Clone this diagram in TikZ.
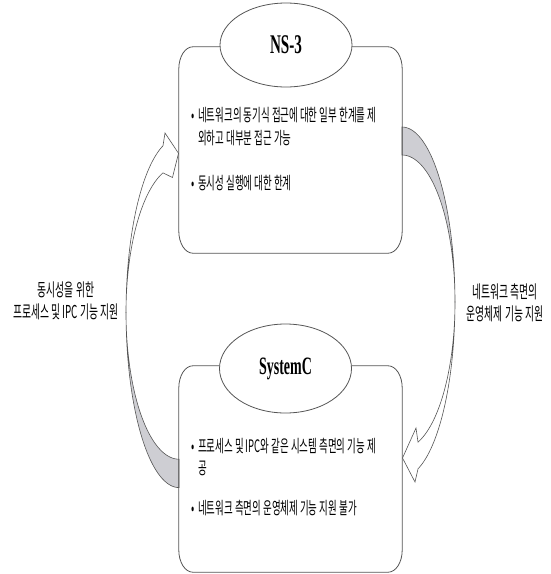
\documentclass[tikz,border=0pt]{standalone}
\usepackage{fontspec}
\setmainfont{Liberation Serif}
\newfontfamily\krfont[FakeStretch=0.55]{Noto Sans CJK KR}
\newfontfamily\titlefont[FakeStretch=0.56]{Liberation Serif}
\usetikzlibrary{shapes.geometric}

% rectangle with elliptic corners drawn around a named node
\newcommand\softbox[1]{%
  \draw[boxline]
    ([xshift=14pt]#1.north west) -- ([xshift=-14pt]#1.north east)
    .. controls ([xshift=-6.3pt]#1.north east) and ([yshift=-9.9pt]#1.north east) .. ([yshift=-22pt]#1.north east)
    -- ([yshift=22pt]#1.south east)
    .. controls ([yshift=9.9pt]#1.south east) and ([xshift=-6.3pt]#1.south east) .. ([xshift=-14pt]#1.south east)
    -- ([xshift=14pt]#1.south west)
    .. controls ([xshift=6.3pt]#1.south west) and ([yshift=9.9pt]#1.south west) .. ([yshift=22pt]#1.south west)
    -- ([yshift=-22pt]#1.north west)
    .. controls ([yshift=-9.9pt]#1.north west) and ([xshift=6.3pt]#1.north west) .. cycle;}

\definecolor{ribbongray}{RGB}{206,206,211}
\definecolor{edgegray}{RGB}{85,85,85}

\begin{document}
\begin{tikzpicture}[x=1pt,y=-1pt,
  boxline/.style={draw=edgegray,line width=0.8pt},
  arrowline/.style={draw=edgegray,line width=0.6pt,line join=miter},
  frame/.style={draw=none,inner sep=0pt,minimum width=223pt,minimum height=206pt},
  titleoval/.style={ellipse,draw=edgegray,line width=0.8pt,fill=white,inner sep=0pt,minimum width=132pt},
  titletext/.style={font=\titlefont\bfseries\fontsize{27}{27}\selectfont},
  bodytext/.style={font=\krfont\fontsize{17.2}{22.5}\selectfont,inner sep=0pt,anchor=base west},
  sidetext/.style={font=\krfont\fontsize{17.8}{22}\selectfont,inner sep=0pt,anchor=base}]

\useasboundingbox[fill=white] (0,0) rectangle (551,574);

% curved arrow on the left: from SystemC up to NS-3
\filldraw[arrowline,fill=ribbongray]
  plot[domain=90:180,samples=40,variable=\t] ({179+53*cos(\t)},{312.6+175*sin(\t)})
  -- plot[domain=180:90,samples=40,variable=\t] ({179+53*cos(\t)},{312.6+146.6*sin(\t)})
  -- cycle;
\filldraw[arrowline,fill=white]
  plot[domain=180:252.4,samples=40,variable=\t] ({179+53*cos(\t)},{312.6+175*sin(\t)})
  -- (165,133) -- (178.5,153.3) -- (172.5,177.5)
  -- plot[domain=252.4:180,samples=40,variable=\t] ({179+53*cos(\t)},{312.6+146.6*sin(\t)})
  -- cycle;

% curved arrow on the right: from NS-3 down to SystemC
\filldraw[arrowline,fill=ribbongray]
  plot[domain=-90:0,samples=40,variable=\t] ({402+53*cos(\t)},{302+175*sin(\t)})
  -- plot[domain=0:-90,samples=40,variable=\t] ({402+53*cos(\t)},{302+147*sin(\t)})
  -- cycle;
\filldraw[arrowline,fill=white]
  plot[domain=0:72.4,samples=40,variable=\t] ({402+53*cos(\t)},{302+175*sin(\t)})
  -- (415,482) -- (402.5,458) -- (416,428)
  -- plot[domain=72.4:0,samples=40,variable=\t] ({402+53*cos(\t)},{302+147*sin(\t)})
  -- cycle;

% the two blocks
\node[frame] (ns3box) at (290.5,150) {};
\node[frame] (scbox) at (290.5,469) {};
\softbox{ns3box}
\softbox{scbox}

\node[titleoval,minimum height=84pt,titletext] (ns3) at (286,45) {NS-3};
\node[titleoval,minimum height=89pt,titletext,font=\titlefont\bfseries\fontsize{25}{25}\selectfont] (sc) at (285.5,368.5) {SystemC};

% block contents
\node[bodytext] (ns3a) at (191,121.5) {\begin{tabular}[t]{@{}l@{}l@{}}\makebox[7pt][l]{•}&네트워크의 동기식 접근에 대한 일부 한계를 제\\&외하고 대부분 접근 가능\end{tabular}};
\node[bodytext] (ns3b) at (191,189) {\begin{tabular}[t]{@{}l@{}l@{}}\makebox[7pt][l]{•}&동시성 실행에 대한 한계\end{tabular}};
\node[bodytext] (sca) at (191,452) {\begin{tabular}[t]{@{}l@{}l@{}}\makebox[7pt][l]{•}&프로세스 및 IPC와 같은 시스템 측면의 기능 제\\&공\end{tabular}};
\node[bodytext] (scb) at (191,514) {\begin{tabular}[t]{@{}l@{}l@{}}\makebox[7pt][l]{•}&네트워크 측면의 운영체제 기능 지원 불가\end{tabular}};

% arrow captions
\node[sidetext] (upcap) at (66,296) {\begin{tabular}[t]{@{}c@{}}동시성을 위한\\프로세스 및 IPC 기능 지원\end{tabular}};
\node[sidetext] (downcap) at (505,298) {\begin{tabular}[t]{@{}c@{}}네트워크 측면의\\운영체제 기능 지원\end{tabular}};
\end{tikzpicture}
\end{document}
